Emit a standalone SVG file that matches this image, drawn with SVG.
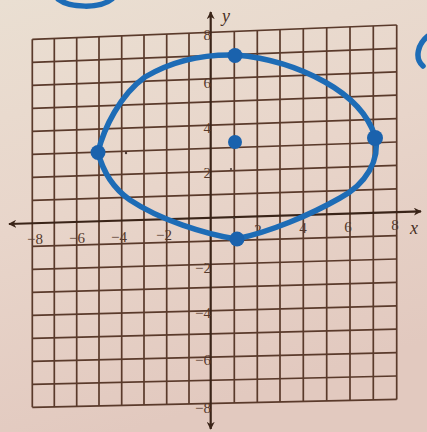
<svg xmlns="http://www.w3.org/2000/svg" width="427" height="432" viewBox="0 0 427 432">
<defs>
<linearGradient id="paper" x1="0" y1="0" x2="0.3" y2="1">
<stop offset="0" stop-color="#eadfd2"/>
<stop offset="0.5" stop-color="#e8d5ca"/>
<stop offset="1" stop-color="#e2c9bf"/>
</linearGradient>
<marker id="ah" viewBox="0 0 10 10" refX="9" refY="5" markerWidth="8" markerHeight="8" orient="auto-start-reverse" markerUnits="userSpaceOnUse">
<path d="M0,0 L10,5 L0,10 L3,5 Z" fill="#3a2418"/>
</marker>
<style>
.g{stroke:#5a3a2b;stroke-width:1.7;fill:none}
.ax{stroke:#3a2418;stroke-width:2.2;fill:none}
.t{font-family:"Liberation Serif","DejaVu Serif",serif;font-size:15px;fill:#55392c}
.tl{font-family:"Liberation Serif","DejaVu Serif",serif;font-size:18px;font-style:italic;fill:#4a3024}
.ink{stroke:#1d6cb6;stroke-width:5.5;fill:none;stroke-linecap:round;stroke-linejoin:round}
.dot{fill:#1a62ad}
.pm{fill:#4a3a34}
</style>
</defs>
<rect x="0" y="0" width="427" height="432" fill="url(#paper)"/>
<g id="grid">
<path class="g" d="M32.3,39.3V407.3 M54.3,38.4V406.8 M76.7,37.6V406.3 M99,36.7V405.9 M121.7,35.8V405.4 M144,34.9V404.9 M166.7,34V404.4 M189,33.2V403.9 M234.3,31.4V402.9 M257.3,30.5V402.4 M280,29.6V401.9 M303.3,28.7V401.4 M326.7,27.8V400.9 M350,26.8V400.4 M373.3,25.9V399.9 M396.7,25V399.4"/>
<path class="g" d="M32.3,39.3L396.7,25 M32.3,62.3L396.7,48.4 M32.3,85.3L396.7,71.8 M32.3,108.3L396.7,95.2 M32.3,131.3L396.7,118.6 M32.3,154.3L396.7,142 M32.3,177.3L396.7,165.4 M32.3,200.3L396.7,188.8 M32.3,246.3L396.7,235.6 M32.3,269.3L396.7,259 M32.3,292.3L396.7,282.4 M32.3,315.3L396.7,305.8 M32.3,338.3L396.7,329.2 M32.3,361.3L396.7,352.6 M32.3,384.3L396.7,376 M32.3,407.3L396.7,399.4"/>
</g>
<g id="axes">
<line id="x-axis" class="ax" x1="9" y1="224" x2="421" y2="211.4" marker-start="url(#ah)" marker-end="url(#ah)"/>
<line id="y-axis" class="ax" x1="210.7" y1="429" x2="210.7" y2="12" marker-start="url(#ah)" marker-end="url(#ah)"/>
<text class="tl" x="410" y="234">x</text>
<text class="tl" x="222" y="22">y</text>
</g>
<g id="x-labels" class="t" text-anchor="middle">
<text x="35" y="244">−8</text>
<text x="77" y="243">−6</text>
<text x="119" y="242">−4</text>
<text x="164" y="240">−2</text>
<text x="258" y="235">2</text>
<text x="303" y="233">4</text>
<text x="348" y="232">6</text>
<text x="395" y="230">8</text>
</g>
<g id="y-labels" class="t" text-anchor="end">
<text x="211" y="40">8</text>
<text x="211" y="88">6</text>
<text x="211" y="133">4</text>
<text x="211" y="178">2</text>
<text x="211" y="273">−2</text>
<text x="211" y="318">−4</text>
<text x="211" y="365">−6</text>
<text x="211" y="413">−8</text>
</g>
<g id="ellipse">
<path class="ink" d="M236,55 C270,58 300,68 325,82 C350,96 368,115 375,136 C381,160 365,185 340,198 C310,215 270,232 236,239 C205,234 160,220 130,200 C110,186 102,168 98,152 C104,128 120,95 145,77 C170,62 200,54 236,55 Z"/>
</g>
<g id="points">
<circle id="p-top" class="dot" cx="235" cy="55.5" r="7.5"/>
<circle id="p-right" class="dot" cx="375" cy="138" r="8"/>
<circle id="p-left" class="dot" cx="98" cy="152.5" r="7.5"/>
<circle id="p-bottom" class="dot" cx="237" cy="239" r="7.5"/>
<circle id="p-center" class="dot" cx="235" cy="142" r="7"/>
</g>
<g id="pencil-marks">
<circle class="pm" cx="126" cy="153" r="1.2"/>
<circle class="pm" cx="231" cy="169" r="1.1"/>
<circle class="pm" cx="234" cy="218" r="1.1"/>
</g>
<g id="margin-ink">
<path class="ink" stroke-width="4.5" d="M58,-1 C70,8 100,9 112,-1"/>
<path class="ink" stroke-width="4.5" d="M428,36 C418,44 414,58 423,66"/>
</g>
</svg>
